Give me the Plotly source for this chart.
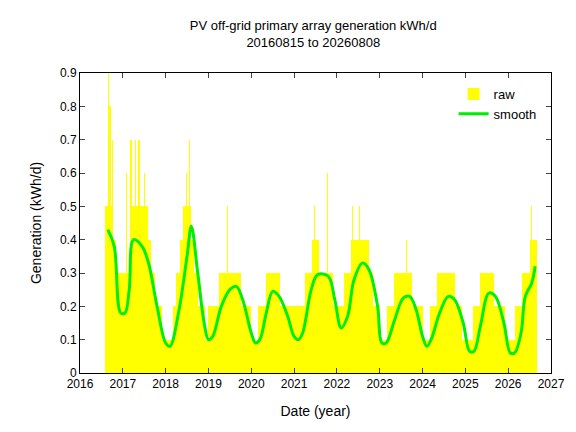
import plotly.graph_objects as go

raw_start = (2016, 8)
raw_monthly = [
 .5,.5,.4,.3,.3,
 .3,.3,.5,.5,.5,.5,.5,.4,.3,.2,.2,.1,
 .1,.1,.2,.3,.4,.5,.5,.4,.3,.2,.2,.1,
 .2,.2,.2,.3,.3,.3,.3,.3,.3,.2,.2,.2,
 .1,.1,.2,.2,.3,.3,.3,.3,.2,.2,.2,.2,
 .2,.2,.2,.3,.3,.4,.4,.3,.3,.3,.3,.2,
 .2,.2,.3,.3,.4,.4,.4,.4,.4,.3,.2,.2,
 .1,.1,.2,.2,.3,.3,.3,.3,.3,.2,.2,.2,
 .1,.1,.2,.2,.3,.3,.3,.3,.3,.2,.2,.1,
 .1,.1,.2,.2,.3,.3,.3,.3,.2,.2,.2,.1,
 .1,.1,.2,.2,.3,.3,.4,.4]
spike_x = [2016.66,2016.70,2016.76,2017.08,2017.19,2017.30,2017.38,2017.50,2018.48,2018.55,2019.45,2021.47,2021.78,2022.37,2022.52,2023.62,2026.55]
spike_y = [0.9,0.8,0.7,0.6,0.7,0.7,0.7,0.6,0.6,0.7,0.5,0.5,0.6,0.5,0.5,0.4,0.5]

smooth_x = [2016.65,2016.8,2016.95,2017.05,2017.15,2017.25,2017.45,2017.6,2017.8,2018.0,2018.1,2018.3,2018.5,2018.6,2018.75,2018.9,2019.0,2019.1,2019.3,2019.5,2019.65,2019.8,2020.0,2020.1,2020.2,2020.35,2020.5,2020.65,2020.85,2021.0,2021.1,2021.2,2021.4,2021.55,2021.8,2021.95,2022.1,2022.25,2022.4,2022.6,2022.75,2022.95,2023.05,2023.15,2023.35,2023.55,2023.7,2023.85,2024.0,2024.1,2024.2,2024.4,2024.6,2024.75,2024.95,2025.1,2025.2,2025.35,2025.55,2025.7,2025.9,2026.05,2026.15,2026.3,2026.4,2026.55,2026.63]
smooth_y = [0.43,0.38,0.18,0.18,0.25,0.40,0.38,0.33,0.20,0.09,0.08,0.18,0.35,0.44,0.30,0.15,0.10,0.11,0.20,0.25,0.26,0.22,0.12,0.09,0.10,0.18,0.245,0.23,0.17,0.11,0.10,0.12,0.25,0.295,0.29,0.22,0.135,0.17,0.28,0.33,0.31,0.20,0.09,0.09,0.16,0.225,0.23,0.19,0.11,0.08,0.10,0.18,0.23,0.22,0.15,0.065,0.065,0.14,0.24,0.23,0.15,0.06,0.06,0.12,0.23,0.27,0.32]

y0, m0 = raw_start
raw_x = [y0 + (m0 - 1 + i + 0.5) / 12 for i in range(len(raw_monthly))]

fig = go.Figure()
fig.add_trace(go.Bar(x=raw_x, y=raw_monthly, width=1/12, marker=dict(color="#ffff00", line=dict(width=0)), name="raw"))
fig.add_trace(go.Bar(x=spike_x, y=spike_y, width=0.008, marker=dict(color="#ffff00", line=dict(width=0)), showlegend=False))
fig.add_trace(go.Scatter(x=smooth_x, y=smooth_y, mode="lines", line=dict(color="#00ee00", width=3, shape="spline"), name="smooth"))

fig.update_layout(
    width=576, height=432, barmode="overlay", bargap=0,
    margin=dict(l=72, r=33, t=65, b=67),
    paper_bgcolor="white", plot_bgcolor="white",
    font=dict(family="Liberation Sans, Arial", size=12, color="black"),
    title=dict(text="PV off-grid primary array generation kWh/d<br>20160815 to 20260808", x=0.53, y=0.95, xanchor="center", font=dict(size=13)),
    legend=dict(x=0.98, y=0.98, xanchor="right", yanchor="top", bgcolor="rgba(0,0,0,0)", font=dict(size=13)),
    xaxis=dict(range=[2016, 2027], tickvals=list(range(2016, 2028)), ticks="inside", ticklen=5,
               showline=True, linecolor="black", mirror="ticks", showgrid=False, zeroline=False,
               title=dict(text="Date (year)")),
    yaxis=dict(range=[0, 0.9], dtick=0.1, ticks="inside", ticklen=5, tickformat=".1~f",
               showline=True, linecolor="black", mirror="ticks", showgrid=False, zeroline=False,
               title=dict(text="Generation (kWh/d)")),
)
fig.write_html("out.html")
